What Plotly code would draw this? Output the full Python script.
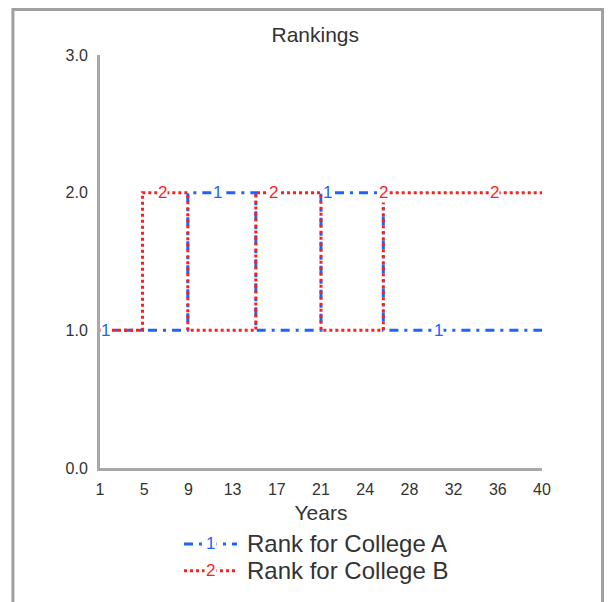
import plotly.graph_objects as go

# step points of the two rank series (value holds until next point)
years = [1, 4.75, 8.75, 14.75, 20.5, 26, 40]
rank_a = [1, 1, 2, 1, 2, 1, 1]
rank_b = [1, 2, 1, 2, 1, 2, 2]

# where the "1" / "2" line markers sit along each series
label_years_a = [1.5, 11.4, 21.1, 30.9]
label_years_b = [6.5, 16.3, 26.0, 35.8]

tick_vals = [1, 4.9, 8.8, 12.7, 16.6, 20.5, 24.4, 28.3, 32.2, 36.1, 40]
tick_text = ["1", "5", "9", "13", "17", "21", "24", "28", "32", "36", "40"]
y_ticks = [0, 1, 2, 3]

BLUE = "#1f63ff"
RED = "#ff1e1e"
FONT = "Liberation Sans, Arial, sans-serif"
DASH_A = "9px,6px,3px,6px"
DASH_B = "3px,3px"


def step_value(xs, ys, x):
    v = ys[0]
    for xi, yi in zip(xs, ys):
        if xi <= x:
            v = yi
    return v


fig = go.Figure()
fig.add_trace(go.Scatter(x=years, y=rank_a, mode="lines", line_shape="hv",
                         line=dict(color=BLUE, width=3, dash=DASH_A),
                         name="Rank for College A", showlegend=False))
fig.add_trace(go.Scatter(x=years, y=rank_b, mode="lines", line_shape="hv",
                         line=dict(color=RED, width=3, dash=DASH_B),
                         name="Rank for College B", showlegend=False))

anns = []
for x in label_years_a:
    anns.append(dict(x=x, y=step_value(years, rank_a, x), text="1", showarrow=False,
                     font=dict(color=BLUE, size=17, family=FONT), bgcolor="white", borderpad=0))
for x in label_years_b:
    anns.append(dict(x=x, y=step_value(years, rank_b, x), text="2", showarrow=False,
                     font=dict(color=RED, size=17, family=FONT), bgcolor="white", borderpad=0))

# hand-made legend below the plot
legend_rows = [("Rank for College A", "1", BLUE, DASH_A, -0.184),
               ("Rank for College B", "2", RED, DASH_B, -0.249)]
shapes = []
for label, num, col, dash, yy in legend_rows:
    shapes.append(dict(type="line", xref="paper", yref="paper", x0=0.19, x1=0.31,
                       y0=yy, y1=yy, line=dict(color=col, width=3, dash=dash)))
    anns.append(dict(xref="paper", yref="paper", x=0.25, y=yy, xanchor="center", yanchor="middle",
                     text=num, showarrow=False,
                     font=dict(color=col, size=17, family=FONT), bgcolor="white", borderpad=1))
    anns.append(dict(xref="paper", yref="paper", x=0.328, y=yy, xanchor="left", yanchor="middle",
                     text=label, showarrow=False,
                     font=dict(color="#333333", size=24, family=FONT)))

# outer frame (kept inside the visible part of the page)
shapes.append(dict(type="rect", xref="paper", yref="paper", x0=-0.197, x1=1.137,
                   y0=-0.5, y1=1.110, line=dict(color="#a0a0a0", width=3), layer="below"))

# the page body adds an 8px offset, so the margins are pulled in by that much
fig.update_layout(
    width=612, height=602,
    margin=dict(l=92, r=78, t=47, b=142),
    paper_bgcolor="white", plot_bgcolor="white",
    title=dict(text="Rankings", x=0.487, xref="paper", xanchor="center",
               y=0.955, yref="container", yanchor="middle",
               font=dict(size=21, color="#333333", family=FONT)),
    annotations=anns,
    shapes=shapes,
    font=dict(family=FONT, color="#333333"),
)
fig.update_xaxes(range=[1, 40], tickvals=tick_vals, ticktext=tick_text, showgrid=False,
                 zeroline=False, showline=True, linecolor="#a8a8a8", linewidth=3,
                 ticklabelstandoff=5, tickfont=dict(size=16, color="#333333"),
                 title=dict(text="Years", font=dict(size=21, color="#333333"), standoff=9))
fig.update_yaxes(range=[0, 3], tickvals=y_ticks, tickformat=".1f", showgrid=False,
                 zeroline=False, showline=True, linecolor="#a8a8a8", linewidth=3,
                 ticklabelstandoff=6, tickfont=dict(size=16, color="#333333"))

fig.write_html("out.html")
